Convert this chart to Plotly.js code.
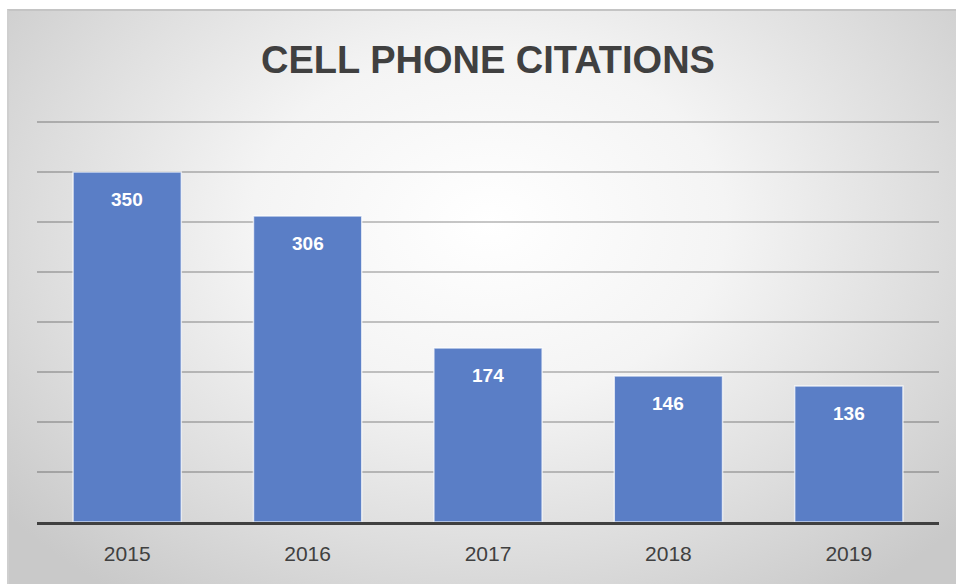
<!DOCTYPE html>
<html>
<head>
<meta charset="utf-8">
<script src="https://cdn.plot.ly/plotly-3.0.1.min.js"></script>
<style>
  html, body { margin: 0; padding: 0; background: #ffffff; }
  #frame {
    position: absolute; left: 7px; top: 9px; width: 960px; height: 590px;
    border-top: 2px solid #c4c4c4; border-left: 2px solid #cfcfcf;
    background: radial-gradient(ellipse 65% 78% at 50% 36%, #ffffff 0%, #f4f4f4 38%, #dddddd 72%, #c9c9c9 100%);
  }
  #chart { position: absolute; left: 0; top: 0; width: 956px; height: 584px; }
</style>
</head>
<body>
<div id="frame"></div>
<div id="chart"></div>
<script>
const years = ['2015', '2016', '2017', '2018', '2019'];
const citations = [350, 306, 174, 146, 136];
const chartTitle = 'CELL PHONE CITATIONS';

const trace = {
  type: 'bar',
  x: years,
  y: citations,
  width: 0.6,
  marker: { color: '#5a7ec6', line: { color: 'rgba(255,255,255,0.7)', width: 1.5 } },
  hoverinfo: 'x+y'
};

const annotations = years.map((yr, i) => ({
  x: i, y: citations[i], xref: 'x', yref: 'y',
  text: String(citations[i]), showarrow: false,
  yanchor: 'top', yshift: -15,
  font: { family: 'Liberation Sans, Arial, sans-serif', size: 19, color: '#ffffff', weight: 'bold' }
}));

const layout = {
  width: 956, height: 584,
  margin: { l: 37, r: 17, t: 119, b: 62 },
  paper_bgcolor: 'rgba(0,0,0,0)',
  plot_bgcolor: 'rgba(0,0,0,0)',
  title: {
    text: '<b>' + chartTitle + '</b>',
    xref: 'paper', x: 0.5, xanchor: 'center',
    yref: 'container', y: 1 - 60 / 584, yanchor: 'middle',
    font: { family: 'Liberation Sans, Arial, sans-serif', size: 38, color: '#404040' }
  },
  xaxis: {
    type: 'category',
    range: [-0.5, years.length - 0.5],
    showgrid: false,
    showline: true, linecolor: '#404040', linewidth: 3,
    ticks: '',
    tickfont: { family: 'Liberation Sans, Arial, sans-serif', size: 21, color: '#404040' },
    ticklabelstandoff: 11,
    fixedrange: true
  },
  yaxis: {
    range: [0, 403], dtick: 50,
    showticklabels: false,
    showgrid: true, gridcolor: 'rgba(0,0,0,0.22)', gridwidth: 2,
    zeroline: false,
    fixedrange: true
  },
  annotations: annotations,
  showlegend: false,
  bargap: 0.4
};

Plotly.newPlot('chart', [trace], layout, { displayModeBar: false, staticPlot: true });
</script>
</body>
</html>
